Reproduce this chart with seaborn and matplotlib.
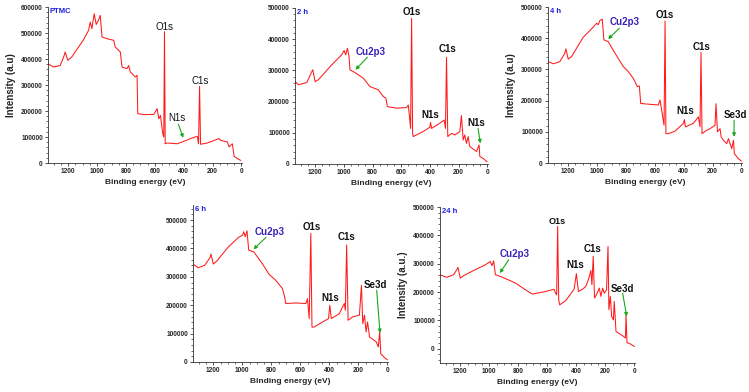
### IMPORTS
import matplotlib
matplotlib.use("Agg")
import matplotlib.pyplot as plt
from matplotlib.ticker import MultipleLocator
import pandas as pd
import seaborn as sns

### SPECTRA (binding energy in eV, intensity in a.u.)
be_ptmc = [1349, 1302, 1256, 1233, 1221, 1203, 1175, 1094, 1059, 1047, 1036, 1020, 1006, 990, 978,
           966, 932, 885, 874, 839, 827, 793, 781, 770, 735, 723, 718, 677, 607, 584, 572, 561,
           545, 538, 533, 528, 514, 445, 410, 352, 306, 297, 290, 283, 236, 155, 144, 97, 86, 63,
           51, 28, 5]
int_ptmc = [385000, 369000, 375000, 405000, 427000, 395000, 408000, 474000, 510000, 542000, 517000,
            574000, 533000, 549000, 568000, 485000, 478000, 472000, 446000, 427000, 369000, 363000,
            375000, 350000, 331000, 337000, 190000, 186000, 187000, 209000, 170000, 183000, 113000,
            100000, 505000, 74000, 77000, 74000, 81000, 94000, 103000, 74000, 295000, 72000, 77000,
            94000, 87000, 81000, 62000, 74000, 26000, 17000, 10000]

be_2h = [1339, 1316, 1258, 1223, 1216, 1200, 1177, 1096, 1015, 998, 987, 975, 964, 957, 922, 864,
         818, 760, 725, 707, 697, 632, 563, 551, 544, 535, 528, 521, 517, 447, 401, 396, 389, 331,
         301, 292, 285, 276, 250, 227, 192, 181, 169, 158, 146, 134, 123, 76, 58, 53, 30, 2]
int_2h = [264000, 254000, 261000, 296000, 302000, 264000, 270000, 312000, 350000, 364000, 350000,
          371000, 345000, 302000, 293000, 275000, 248000, 238000, 216000, 211000, 184000, 179000,
          181000, 189000, 157000, 114000, 467000, 98000, 88000, 104000, 118000, 133000, 114000,
          131000, 141000, 114000, 342000, 88000, 98000, 93000, 104000, 155000, 77000, 93000, 66000,
          88000, 56000, 40000, 61000, 24000, 18000, 7000]

be_4h = [1339, 1304, 1258, 1223, 1216, 1200, 1177, 1096, 1026, 1003, 992, 980, 964, 953, 923, 876,
         818, 784, 749, 721, 707, 698, 657, 576, 564, 553, 536, 529, 523, 506, 460, 402, 395, 388,
         333, 298, 287, 280, 273, 240, 217, 183, 176, 166, 148, 141, 125, 102, 90, 67, 55, 49, 21, 0]
int_4h = [325000, 318000, 325000, 352000, 366000, 333000, 341000, 403000, 436000, 448000, 443000,
          457000, 461000, 395000, 389000, 352000, 309000, 293000, 271000, 245000, 247000, 191000,
          189000, 186000, 202000, 170000, 121000, 455000, 94000, 94000, 102000, 127000, 139000,
          116000, 127000, 148000, 116000, 354000, 94000, 105000, 110000, 121000, 190000, 100000,
          110000, 84000, 73000, 62000, 78000, 46000, 73000, 30000, 14000, 6000]

be_6h = [1345, 1305, 1258, 1223, 1216, 1200, 1177, 1095, 1026, 998, 991, 980, 968, 956, 921, 863,
         816, 770, 724, 708, 701, 631, 562, 551, 539, 528, 520, 505, 447, 406, 397, 387, 332, 297,
         290, 281, 271, 239, 193, 179, 170, 158, 147, 137, 123, 77, 63, 53, 46, 19, 0]
int_6h = [347000, 332000, 341000, 368000, 380000, 345000, 355000, 406000, 439000, 447000, 459000,
          441000, 462000, 394000, 388000, 347000, 309000, 288000, 259000, 229000, 206000, 208000,
          206000, 223000, 153000, 453000, 123000, 123000, 141000, 153000, 200000, 153000, 170000,
          206000, 182000, 412000, 147000, 159000, 165000, 270000, 135000, 165000, 106000, 141000,
          88000, 71000, 53000, 106000, 29000, 15000, 8000]

be_24h = [1339, 1293, 1247, 1224, 1216, 1200, 1177, 1097, 1028, 993, 982, 970, 958, 912, 820, 751,
          704, 612, 554, 543, 536, 529, 522, 515, 473, 416, 400, 386, 358, 335, 316, 300, 293, 284,
          275, 254, 242, 231, 219, 208, 192, 182, 176, 166, 157, 145, 139, 127, 81, 62, 58, 51, 23, 0]
int_24h = [261000, 252000, 261000, 279000, 287000, 249000, 258000, 279000, 296000, 308000, 293000,
           310000, 261000, 253000, 232000, 208000, 193000, 202000, 210000, 196000, 190000, 432000,
           173000, 155000, 170000, 210000, 265000, 202000, 210000, 220000, 246000, 276000, 226000,
           326000, 179000, 199000, 214000, 185000, 214000, 196000, 208000, 361000, 138000, 185000,
           114000, 102000, 167000, 61000, 46000, 38000, 120000, 22000, 16000, 8000]

sample_names = ["PTMC", "2 h", "4 h", "6 h", "24 h"]

### STYLE
sns.set_style("ticks")
plt.rcParams["font.family"] = ["Liberation Sans", "DejaVu Sans"]
plt.rcParams["font.weight"] = "bold"

RED = "#ff1a1a"
GREEN = "#1aa81a"
BLUE = "#1f1fe0"
CU = "#3a22b8"

W, H = 749, 392
fig = plt.figure(figsize=(W / 100, H / 100), dpi=100)


def make_ax(l, r, t, b):
    return fig.add_axes([l / W, (H - b) / H, (r - l) / W, (b - t) / H])


### PANELS: (axes box in px, y limits, y label)
panels = [
    (be_ptmc, int_ptmc, (48, 242, 7, 163), (0, 600000), "Intensity (a.u)"),
    (be_2h, int_2h, (295, 488, 8, 164), (0, 500000), None),
    (be_4h, int_4h, (548, 742, 7, 163), (0, 500000), "Intensity (a.u)"),
    (be_6h, int_6h, (193, 388, 205, 362), (0, 553000), None),
    (be_24h, int_24h, (440, 635, 207, 363), (-50000, 500000), "Intensity (a.u.)"),
]

axes = []
for (be, inten, box, ylim, ylab), name in zip(panels, sample_names):
    ax = make_ax(*box)
    df = pd.DataFrame({"be": be, "intensity": inten})
    sns.lineplot(data=df, x="be", y="intensity", sort=False, color=RED, lw=0.75, ax=ax)
    ax.set_xlim(1340, -4)
    ax.set_ylim(*ylim)
    ax.xaxis.set_major_locator(MultipleLocator(200))
    ax.xaxis.set_minor_locator(MultipleLocator(50))
    ax.yaxis.set_major_locator(MultipleLocator(100000))
    ax.yaxis.set_minor_locator(MultipleLocator(20000))
    ax.tick_params(which="major", length=2.2, width=0.6, labelsize=4.7, pad=1.5, color="#333333")
    ax.tick_params(which="minor", length=1.3, width=0.5, color="#333333")
    for lab in ax.get_xticklabels() + ax.get_yticklabels():
        lab.set_fontweight("bold")
    ax.yaxis.set_major_formatter(plt.FuncFormatter(lambda v, p: f"{int(round(v))}"))
    ax.set_xlabel("Binding energy (eV)", fontsize=6, fontweight="bold", labelpad=3)
    if ylab:
        ax.set_ylabel(ylab, fontsize=7, fontweight="bold", labelpad=4)
    else:
        ax.set_ylabel("")
    sns.despine(ax=ax)
    for s in ["left", "bottom"]:
        ax.spines[s].set_linewidth(0.6)
        ax.spines[s].set_color("#333333")
    ax.text(0.01, 0.995, name, transform=ax.transAxes, ha="left", va="top",
            fontsize=5.5, fontweight="bold", color=BLUE)
    axes.append(ax)


def label(ax, txt, x, y, bold=True, color="#111111", size=7):
    ax.text(x, y, txt, ha="center", va="center", fontsize=size,
            fontweight="bold" if bold else "normal", color=color)


def arrow(ax, x0, y0, x1, y1):
    ax.annotate("", xy=(x1, y1), xytext=(x0, y0),
                arrowprops=dict(arrowstyle="-|>", color=GREEN, lw=0.8,
                                mutation_scale=5, shrinkA=0, shrinkB=0))


### ANNOTATIONS
a = axes[0]
label(a, "O1s", 533, 525000, bold=False)
label(a, "C1s", 287, 314000, bold=False)
label(a, "N1s", 445, 174000, bold=False)
arrow(a, 437, 149000, 403, 97000)

a = axes[1]
label(a, "O1s", 528, 486000)
label(a, "Cu2p3", 811, 358000, color=CU)
arrow(a, 836, 342000, 919, 302000)
label(a, "C1s", 280, 368000)
label(a, "N1s", 401, 157000)
label(a, "N1s", 76, 133000)
arrow(a, 65, 114000, 49, 66000)

a = axes[2]
label(a, "O1s", 534, 473000)
label(a, "Cu2p3", 812, 452000, color=CU)
arrow(a, 846, 432000, 923, 397000)
label(a, "C1s", 275, 373000)
label(a, "N1s", 391, 167000)
label(a, "Se3d", 44, 153000)
arrow(a, 51, 137000, 51, 84000)

a = axes[3]
label(a, "O1s", 524, 476000)
label(a, "Cu2p3", 815, 458000, color=CU)
arrow(a, 837, 439000, 923, 397000)
label(a, "C1s", 283, 441000)
label(a, "N1s", 397, 226000)
label(a, "Se3d", 81, 270000)
arrow(a, 74, 253000, 51, 102000)

a = axes[4]
label(a, "O1s", 529, 449000, size=6.5)
label(a, "Cu2p3", 824, 335000, color=CU)
arrow(a, 866, 314000, 928, 267000)
label(a, "C1s", 286, 352000)
label(a, "N1s", 406, 296000)
label(a, "Se3d", 81, 210000)
arrow(a, 81, 196000, 53, 114000)

plt.savefig("out.png", dpi=100)
